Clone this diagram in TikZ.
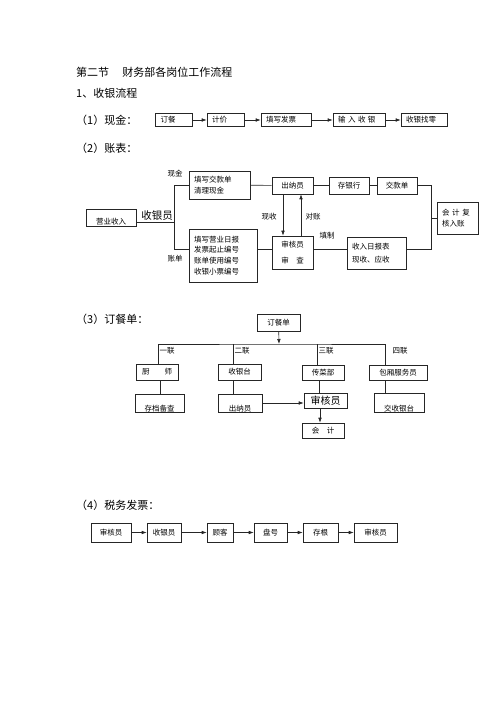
\documentclass[tikz,border=0pt]{standalone}
\usepackage{fontspec}
\setmainfont{Noto Sans CJK SC}
\usetikzlibrary{arrows.meta}

\begin{document}
\begin{tikzpicture}[x=1pt,y=-1pt,
    head/.style={anchor=west,inner sep=0pt,font=\fontsize{11}{13}\selectfont},
    lbl/.style={inner sep=0pt,font=\fontsize{7.5}{9}\selectfont},
    box/.style={draw=black!85,line width=0.6pt,inner xsep=5pt,inner ysep=0pt,
      align=center,font=\fontsize{7.5}{9}\selectfont},
    lbox/.style={box,align=left},
    low/.style={text height=#1,text depth=1pt},
    ln/.style={draw=black!85,line width=0.6pt},
    arr/.style={ln,-{Latex[length=5pt,width=3.6pt]}}]
  \useasboundingbox (0,0) rectangle (500,708);
  % headings
  \draw
    (76,72) node[head] (t0){第二节\hspace{1.2em}财务部各岗位工作流程}
    (76,93) node[head] (t1){1、收银流程}
    (76,120) node[head] (t2){（1）现金：}
    (76,148) node[head] (t3){（2）账表：}
    (76,319) node[head] (t4){（3）订餐单：}
    (76,505) node[head] (t5){（4）税务发票：};
  % (1) cash
  \draw
    (174,120) node[lbox,text width=27,minimum height=13] (dc){订餐}
    (225.5,120) node[lbox,text width=27,minimum height=13] (jj){计价}
    (286,120) node[lbox,text width=40,minimum height=13] (txfp){填写发票}
    (359,120) node[lbox,text width=42,minimum height=13] (srsy){输 入 收 银}
    (424,120) node[lbox,text width=36,minimum height=13] (syzl){收银找零};
  \begin{scope}[arr]
    \draw (dc) to (jj);
    \draw (jj) to (txfp);
    \draw (txfp) to (srsy);
    \draw (srsy) to (syzl);
  \end{scope}
  % (2) accounts
  \draw
    (111,217.5) node[box,minimum width=50,low=16pt] (yysr){营业收入}
    (157,216) node[lbl,font=\fontsize{10.5}{12}\selectfont] (syy){收银员}
    (175,174) node[lbl] (xj){现金}
    (175,259) node[lbl] (zd){账单}
    (219.5,185) node[lbox,text width=51,minimum height=28,font=\fontsize{7.5}{11}\selectfont] (jkxj){填写交款单\\清理现金}
    (223,255.5) node[lbox,text width=58,minimum height=53,font=\fontsize{7.5}{10.7}\selectfont] (rb){填写营业日报\\发票起止编号\\账单使用编号\\收银小票编号}
    (292.5,185.5) node[box,minimum width=41,minimum height=17] (cny){出纳员}
    (349,185.5) node[box,minimum width=40,minimum height=17] (cyh){存银行}
    (397,185.5) node[box,minimum width=40,minimum height=17] (jkd){交款单}
    (457.5,218) node[lbox,text width=31,minimum height=32,font=\fontsize{7.5}{11}\selectfont] (fhrz){会\hspace{.35em}计\hspace{.35em}复\\核入账}
    (292.5,252.5) node[box,minimum width=41,minimum height=33] (shy){审核员\\[7pt]审　查}
    (376.5,253) node[lbox,text width=49,minimum height=32] (srrb){收入日报表\\[4pt]现收、应收}
    (269,217) node[lbl] (xs){现收}
    (313,217) node[lbl] (dz){对账}
    (327,236) node[lbl] (tz){填制};
  \coordinate (fork) at (174,222);
  \coordinate (lv) at (0,249);
  \coordinate (rj) at (431,218);
  \begin{scope}[ln]
    \draw (yysr.east |- fork) to (fork);
    \draw (fork) |- (jkxj.west);
    \draw (fork) |- (rb.west |- lv);
    \draw (jkxj) to (cny);
    \draw (cny) to (cyh);
    \draw (cyh) to (jkd);
    \draw (jkd.east) -| (rj);
    \draw (rb.east |- lv) to (shy.west |- lv);
    \draw (shy.east |- lv) to (srrb.west |- lv);
    \draw (srrb.east |- lv) -| (rj);
    \draw (rj) to (fhrz.west);
  \end{scope}
  \begin{scope}[arr]
    \draw ([xshift=-9.5pt]cny.south) to ([xshift=-9.5pt]shy.north);
    \draw ([xshift=8.5pt]shy.north) to ([xshift=8.5pt]cny.south);
  \end{scope}
  % (3) order slip
  \draw
    (278.5,322.5) node[box,minimum width=43,minimum height=17] (dcd){订餐单}
    (157,372) node[box,minimum width=42,minimum height=16] (cs){厨　　师}
    (239.5,372) node[box,minimum width=43,minimum height=16] (syt){收银台}
    (323,372.5) node[box,minimum width=42,minimum height=15] (ccb){传菜部}
    (398,372.5) node[box,minimum width=58,minimum height=15] (bxfw){包厢服务员}
    (167,351) node[lbl] (yl){一联}
    (242,351) node[lbl] (el){二联}
    (326,351) node[lbl] (sl){三联}
    (400,351) node[lbl] (sil){四联}
    (159.5,403) node[box,minimum width=49,low=17pt] (cdbc){存档备查}
    (240,403) node[box,minimum width=44,low=17pt] (cny2){出纳员}
    (325.5,400.5) node[box,minimum width=43,minimum height=15,font=\fontsize{10}{12}\selectfont] (shy2){审核员}
    (399,402.5) node[box,minimum width=50,low=18pt] (jsyt){交收银台}
    (323,430.5) node[box,minimum width=42,minimum height=15] (kj){会　计};
  \coordinate (bus) at (279,344);
  \begin{scope}[ln]
    \draw ([xshift=1pt]cs.north) |- (bus) -| ([xshift=-13pt]bxfw.north);
    \draw ([xshift=-6.5pt]syt.north) to ([xshift=-6.5pt]syt.north |- bus);
    \draw ([xshift=-6pt]ccb.north) to ([xshift=-6pt]ccb.north |- bus);
    \draw ([xshift=3pt]cs.south) to ([xshift=3pt]cs.south |- cdbc.north);
    \draw ([xshift=-6.5pt]syt.south) to ([xshift=-6.5pt]syt.south |- cny2.north);
    \draw ([xshift=-4pt]ccb.south) to ([xshift=-4pt]ccb.south |- shy2.north);
    \draw ([xshift=-13pt]bxfw.south) to ([xshift=-13pt]bxfw.south |- jsyt.north);
  \end{scope}
  \begin{scope}[arr]
    \draw (dcd) to (bus);
    \draw (cny2.east) to (shy2.west |- cny2.east);
    \draw ([xshift=-3pt]kj.north |- shy2.south) to ([xshift=-3pt]kj.north);
  \end{scope}
  % (4) tax invoice
  \draw
    (111,532.5) node[box,minimum width=40,minimum height=19] (f1){审核员}
    (164,532.5) node[box,minimum width=34,minimum height=19] (f2){收银员}
    (220,532.5) node[box,minimum width=26,minimum height=19] (f3){顾客}
    (270.5,532.5) node[box,minimum width=33,minimum height=19] (f4){盘号}
    (320.5,532.5) node[box,minimum width=35,minimum height=19] (f5){存根}
    (375.5,532.5) node[box,minimum width=43,minimum height=19] (f6){审核员};
  \begin{scope}[arr]
    \draw (f1) to (f2);
    \draw (f2) to (f3);
    \draw (f3) to (f4);
    \draw (f4) to (f5);
    \draw (f5) to (f6);
  \end{scope}
\end{tikzpicture}
\end{document}
